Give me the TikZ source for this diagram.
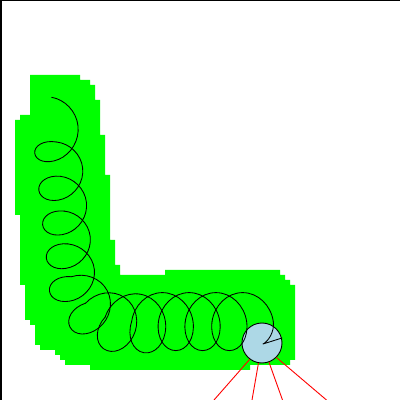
\documentclass[tikz,border=0pt]{standalone}
\definecolor{lblue}{HTML}{ADD8E6}
\definecolor{lgreen}{HTML}{00FF00}
\newcommand\coilturn[5]{%
  \draw[coilline, shift={(#1)}, rotate=#2] (0,0)
  .. controls ({#3/12},{0.555*#4}) and ({0.445*#5+#3/6},{#4}) .. ({#5+#3/4},{#4})
  .. controls ({1.555*#5+#3/3},{#4}) and ({2*#5+5*#3/12},{0.555*#4}) .. ({2*#5+#3/2},0)
  .. controls ({2*#5+7*#3/12},{-0.555*#4}) and ({1.555*#5+2*#3/3},{-#4}) .. ({#5+3*#3/4},{-#4})
  .. controls ({0.445*#5+5*#3/6},{-#4}) and ({11*#3/12},{-0.555*#4}) .. (#3,0);}
\newcommand\coilhalf[5]{%
  \draw[coilline, shift={(#1)}, rotate=#2] (0,0)
  .. controls ({#3/12},{0.555*#4}) and ({0.445*#5+#3/6},{#4}) .. ({#5+#3/4},{#4})
  .. controls ({1.555*#5+#3/3},{#4}) and ({2*#5+5*#3/12},{0.555*#4}) .. ({2*#5+#3/2},0)
  coordinate (tend);}
\begin{document}
\begin{tikzpicture}[x=1pt,y=1pt,
  coilline/.style={draw=black, line width=0.85pt, line join=round, line cap=round},
  ray/.style={draw=red, line width=0.9pt}]
\clip (0,0) rectangle (400,400);
\useasboundingbox (0,0) rectangle (400,400);
\fill[white] (0,0) rectangle (400,400);
\fill[black] (0,0) rectangle (2,400);
\fill[black] (0,398.6) rectangle (400,400);
\begin{scope}[shift={(0,400)}, yscale=-1]
  \fill[lgreen] (30,75) -- (80,75) -- (80,80) -- (90,80) -- (90,85) -- (95,85) -- (95,100)
    -- (100,100) -- (100,135) -- (105,135) -- (105,175) -- (110,175) -- (110,240)
    -- (115,240) -- (115,265) -- (120,265) -- (120,275) -- (165,275) -- (165,270)
    -- (280,270) -- (280,275) -- (285,275) -- (285,280) -- (290,280) -- (290,285)
    -- (295,285) -- (295,360) -- (290,360) -- (290,365) -- (250,365) -- (250,370)
    -- (90,370) -- (90,365) -- (65,365) -- (65,360) -- (60,360) -- (60,355) -- (55,355)
    -- (55,350) -- (40,350) -- (40,345) -- (35,345) -- (35,325) -- (30,325) -- (30,320)
    -- (25,320) -- (25,285) -- (20,285) -- (20,215) -- (15,215) -- (15,120) -- (20,120)
    -- (20,115) -- (30,115) -- cycle;
  \node[circle, draw=black, fill=lblue, minimum size=40pt, inner sep=0pt, line width=0.9pt] (c) at (262,343) {};
  \coordinate (r1) at (214,400);
  \coordinate (r2) at (252,400);
  \coordinate (r3) at (282.5,400);
  \coordinate (r4) at (326.5,400);
\end{scope}
% centre line of the coil, one point per turn
\path (51.7,302.7) coordinate (t0)
  ++(-83.7:45) coordinate (t1)
  ++(-83.7:34.5) coordinate (t2)
  ++(-83.7:35) coordinate (t3)
  ++(-83.7:33) coordinate (t4)
  ++(-83.7:33) coordinate (t5)
  ++(-62:30) coordinate (t6)
  ++(-35:24) coordinate (t7)
  ++(-10:26.8) coordinate (t8)
  ++(0:26.8) coordinate (t9)
  ++(0:26.8) coordinate (t10)
  ++(0:26.8) coordinate (t11);
\coilturn{t0}{-83.7}{45}{23}{20}
\coilturn{t1}{-83.7}{34.5}{23}{20}
\coilturn{t2}{-83.7}{35}{23}{20}
\coilturn{t3}{-83.7}{33}{23}{20}
\coilturn{t4}{-83.7}{33}{23.5}{20}
\coilturn{t5}{-62}{30}{25}{21.5}
\coilturn{t6}{-35}{24}{27}{23}
\coilturn{t7}{-10}{26.8}{28.5}{24}
\coilturn{t8}{0}{26.8}{29}{24}
\coilturn{t9}{0}{26.8}{29}{24}
\coilturn{t10}{0}{26.8}{29}{24}
\coilhalf{t11}{0}{26.5}{29}{24}
\draw[coilline] (tend) .. controls +(1.4,-10.5) and (268,58.5) .. (263,56) -- (282,62);
\draw[ray] (c.-127) -- (r1);
\draw[ray] (c.-100) -- (r2);
\draw[ray] (c.-70) -- (r3);
\draw[ray] (c.-45) -- (r4);
\end{tikzpicture}
\end{document}
